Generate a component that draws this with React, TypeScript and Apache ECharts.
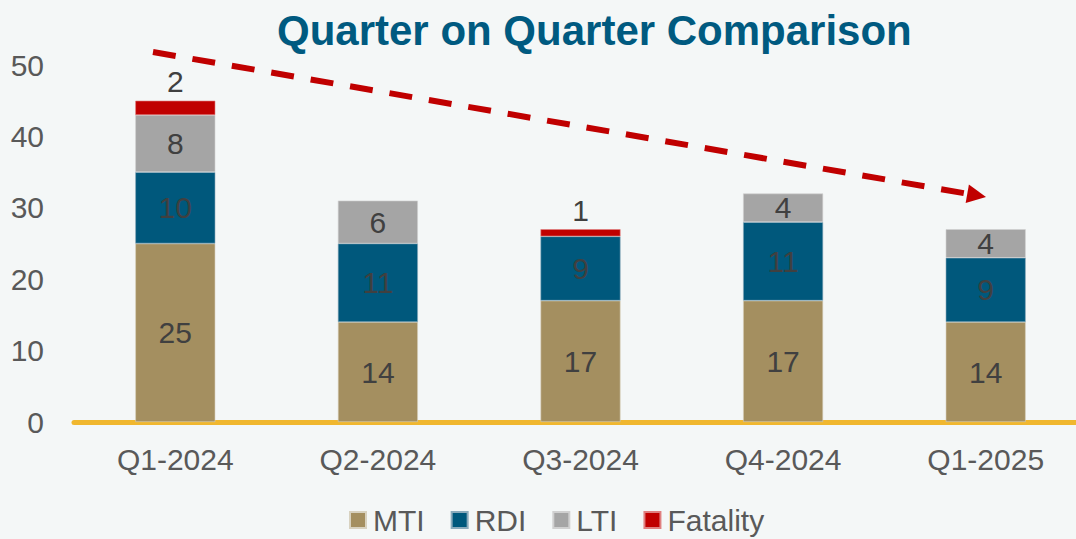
import React, { useEffect, useRef } from "react";
import * as echarts from "echarts";

const categories = ["Q1-2024", "Q2-2024", "Q3-2024", "Q4-2024", "Q1-2025"];
const mti = [25, 14, 17, 17, 14];
const rdi = [10, 11, 9, 11, 9];
const lti = [8, 6, null, 4, 4];
const fatality = [2, null, 1, null, null];
const yTicks = [0, 10, 20, 30, 40, 50];

const FONT = "'Liberation Sans', Arial, sans-serif";
const LABEL_COLOR = "#404040";
const AXIS_TEXT = "#595959";

export default function App() {
  const ref = useRef<HTMLDivElement>(null);
  useEffect(() => {
    document.body.style.margin = "0";
    if (!ref.current) return;
    const chart = echarts.init(ref.current, undefined, { renderer: "svg" });

    const arrowStart = [153, 52];
    const tip = [986, 197];
    const dx = tip[0] - arrowStart[0];
    const dy = tip[1] - arrowStart[1];
    const len = Math.sqrt(dx * dx + dy * dy);
    const ux = dx / len;
    const uy = dy / len;
    const headLen = 19;
    const headHalf = 9.5;
    const bx = tip[0] - ux * headLen;
    const by = tip[1] - uy * headLen;

    const mkLabel = (pos: string) => ({
      show: true,
      position: pos,
      distance: 4,
      color: LABEL_COLOR,
      fontSize: 30,
      fontFamily: FONT,
    });

    const barBase = {
      type: "bar",
      stack: "total",
      barWidth: 80,
    };

    chart.setOption({
      animation: false,
      backgroundColor: "#f4f7f7",
      textStyle: { fontFamily: FONT },
      title: {
        text: "Quarter on Quarter Comparison",
        left: 272,
        top: 4,
        textStyle: {
          color: "#005a80",
          fontSize: 42,
          fontWeight: "bold",
          fontFamily: FONT,
        },
      },
      legend: {
        left: 344,
        top: 500,
        itemWidth: 16,
        itemHeight: 16,
        itemGap: 26,
        icon: "rect",
        textStyle: { fontSize: 30, color: AXIS_TEXT, fontFamily: FONT, padding: [0, 0, 0, 2] },
        data: ["MTI", "RDI", "LTI", "Fatality"],
      },
      grid: {
        left: 74,
        top: 65,
        width: 1013,
        height: 357,
        containLabel: false,
      },
      xAxis: {
        type: "category",
        data: categories,
        axisLine: { show: true, lineStyle: { color: "#f0b72f", width: 5 } },
        axisTick: { show: false },
        axisLabel: {
          color: AXIS_TEXT,
          fontSize: 30,
          fontFamily: FONT,
          margin: 22,
        },
      },
      yAxis: {
        type: "value",
        min: yTicks[0],
        max: yTicks[yTicks.length - 1],
        interval: 10,
        axisLine: { show: false },
        axisTick: { show: false },
        splitLine: { show: false },
        axisLabel: {
          color: AXIS_TEXT,
          fontSize: 30,
          fontFamily: FONT,
          margin: 30,
        },
      },
      series: [
        {
          ...barBase,
          name: "MTI",
          data: mti,
          itemStyle: { color: "#a48f60", borderColor: "#d8d2c0", borderWidth: 0.6 },
          label: mkLabel("inside"),
        },
        {
          ...barBase,
          name: "RDI",
          data: rdi,
          itemStyle: { color: "#00587c", borderColor: "#8aaabb", borderWidth: 0.6 },
          label: mkLabel("inside"),
        },
        {
          ...barBase,
          name: "LTI",
          data: lti,
          itemStyle: { color: "#a5a5a5", borderColor: "#d0d0d0", borderWidth: 0.6 },
          label: mkLabel("inside"),
        },
        {
          ...barBase,
          name: "Fatality",
          data: fatality,
          itemStyle: { color: "#c00000", borderColor: "#e08080", borderWidth: 0.6 },
          label: mkLabel("top"),
        },
      ],
      graphic: [
        {
          type: "line",
          shape: { x1: arrowStart[0], y1: arrowStart[1], x2: bx + ux * 2, y2: by + uy * 2 },
          style: { stroke: "#c00000", lineWidth: 6, lineDash: [23, 17] },
          z: 100,
        },
        {
          type: "polygon",
          shape: {
            points: [
              [tip[0], tip[1]],
              [bx - uy * headHalf, by + ux * headHalf],
              [bx + uy * headHalf, by - ux * headHalf],
            ],
          },
          style: { fill: "#c00000" },
          z: 100,
        },
      ],
    });
    return () => chart.dispose();
  }, []);
  return (
    <div style={{ width: 1076, height: 539, overflow: "hidden", background: "#f4f7f7" }}>
      <div ref={ref} style={{ width: 1100, height: 539 }} />
    </div>
  );
}
